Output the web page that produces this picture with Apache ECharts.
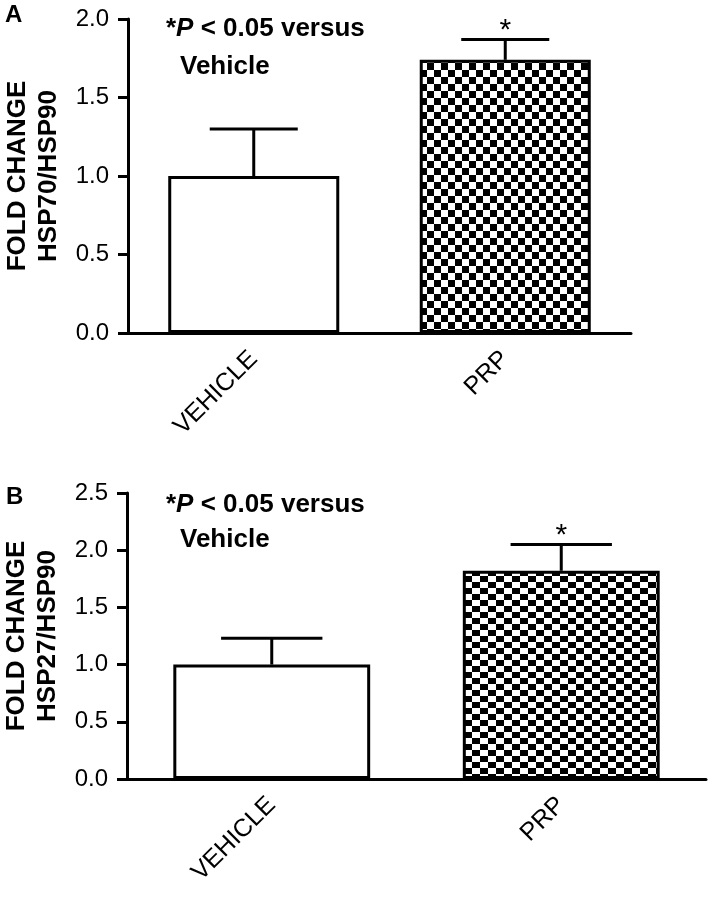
<!DOCTYPE html>
<html>
<head>
<meta charset="utf-8">
<script src="https://cdn.jsdelivr.net/npm/echarts@6/dist/echarts.min.js"></script>
<style>
html,body{margin:0;padding:0;background:#fff;}
#chart{width:709px;height:898px;}
</style>
</head>
<body>
<div id="chart"></div>
<script>
// ---- data ----
const categories = ['VEHICLE', 'PRP'];
const meanA = [1.0, 1.74];
const errA = [0.30, 0.13];
const sigA = ['', '*'];
const meanB = [1.0, 1.82];
const errB = [0.23, 0.23];
const sigB = ['', '*'];
const yTicksA = {min: 0, max: 2.0, interval: 0.5};
const yTicksB = {min: 0, max: 2.5, interval: 0.5};
const yNameA = 'FOLD CHANGE\nHSP70/HSP90';
const yNameB = 'FOLD CHANGE\nHSP27/HSP90';
const noteLine1 = '*{i|P} < 0.05 versus';
const noteLine2 = 'Vehicle';

// ---- checkerboard patterns ----
function checker(w, h) {
  const c = document.createElement('canvas');
  c.width = w * 2; c.height = h * 2;
  const ctx = c.getContext('2d');
  ctx.fillStyle = '#fff'; ctx.fillRect(0, 0, w * 2, h * 2);
  ctx.fillStyle = '#000';
  ctx.fillRect(0, 0, w, h);
  ctx.fillRect(w, h, w, h);
  return {image: c, repeat: 'repeat'};
}
const patA = checker(7, 7);
const patB = checker(8, 6);

const FONT = '"Liberation Sans", Arial, Helvetica, sans-serif';

function barData(means, pat) {
  return means.map((v, i) => ({
    value: v,
    itemStyle: {color: i === 0 ? '#fff' : pat}
  }));
}
function errData(means, errs) {
  return means.map((v, i) => [i, v, errs[i]]);
}
function makeRender(sigArr) {
  return function (params, api) {
    const i = api.value(0), m = api.value(1), e = api.value(2);
    const s = params.dataIndex;
    const p0 = api.coord([i, m]);
    const p1 = api.coord([i, m + e]);
    const half = api.size([1, 0])[0] * 0.175;
    const children = [
      {type: 'line', shape: {x1: p0[0], y1: p0[1], x2: p1[0], y2: p1[1]}, style: {stroke: '#000', lineWidth: 3}},
      {type: 'line', shape: {x1: p1[0] - half, y1: p1[1], x2: p1[0] + half, y2: p1[1]}, style: {stroke: '#000', lineWidth: 3}}
    ];
    if (sigArr[s]) {
      children.push({type: 'text', style: {text: sigArr[s], x: p1[0], y: p1[1] + 6, align: 'center', verticalAlign: 'bottom', fontSize: 30, fontFamily: FONT, fill: '#000'}});
    }
    return {type: 'group', children};
  };
}

function yAxis(gridIndex, t, name) {
  return {
    type: 'value', gridIndex, min: t.min, max: t.max, interval: t.interval,
    name, nameLocation: 'middle', nameRotate: 90, nameGap: 64,
    nameTextStyle: {fontFamily: FONT, fontWeight: 'bold', fontSize: 26, lineHeight: 31, color: '#000', align: 'center'},
    axisLine: {show: true, lineStyle: {color: '#000', width: 3}},
    axisTick: {show: true, inside: false, length: 10, lineStyle: {color: '#000', width: 3}},
    axisLabel: {color: '#000', fontFamily: FONT, fontSize: 24, margin: 19, formatter: v => v.toFixed(1)},
    splitLine: {show: false}
  };
}
function xAxis(gridIndex) {
  return {
    type: 'category', gridIndex, data: categories,
    axisLine: {lineStyle: {color: '#000', width: 3}},
    axisTick: {alignWithLabel: true, length: 8, lineStyle: {color: '#000', width: 3}},
    axisLabel: {rotate: 45, color: '#000', fontFamily: FONT, fontSize: 25, margin: 22, interval: 0}
  };
}
function note(x1, y1, x2, y2) {
  return [
    {type: 'text', x: x1, y: y1, style: {text: noteLine1, verticalAlign: 'middle', fontFamily: FONT, fontWeight: 'bold', fontSize: 26, fill: '#000',
      rich: {i: {fontStyle: 'italic', fontWeight: 'bold', fontFamily: FONT, fontSize: 26}}}},
    {type: 'text', x: x2, y: y2, style: {text: noteLine2, verticalAlign: 'middle', fontFamily: FONT, fontWeight: 'bold', fontSize: 26, fill: '#000'}}
  ];
}

const chart = echarts.init(document.getElementById('chart'), null, {renderer: 'canvas'});
chart.setOption({
  animation: false,
  backgroundColor: '#fff',
  grid: [
    {left: 128, right: 78, top: 19, bottom: 565, containLabel: false, outerBoundsMode: 'none'},
    {left: 127, right: 3, top: 493, bottom: 119, containLabel: false, outerBoundsMode: 'none'}
  ],
  xAxis: [xAxis(0), xAxis(1)],
  yAxis: [yAxis(0, yTicksA, yNameA), yAxis(1, yTicksB, yNameB)],
  graphic: [
    {type: 'text', x: 5, y: 15, style: {text: 'A', verticalAlign: 'middle', fontFamily: FONT, fontWeight: 'bold', fontSize: 24, fill: '#000'}},
    {type: 'text', x: 6, y: 497, style: {text: 'B', verticalAlign: 'middle', fontFamily: FONT, fontWeight: 'bold', fontSize: 24, fill: '#000'}}
  ].concat(note(166, 29, 180, 67), note(166, 505, 180, 540)),
  series: [
    {type: 'bar', xAxisIndex: 0, yAxisIndex: 0, data: barData(meanA, patA), barWidth: '68%',
      itemStyle: {borderColor: '#000', borderWidth: 3}, z: 2},
    {type: 'custom', xAxisIndex: 0, yAxisIndex: 0, data: errData(meanA, errA), renderItem: makeRender(sigA), z: 3},
    {type: 'bar', xAxisIndex: 1, yAxisIndex: 1, data: barData(meanB, patB), barWidth: '68%',
      itemStyle: {borderColor: '#000', borderWidth: 3}, z: 2},
    {type: 'custom', xAxisIndex: 1, yAxisIndex: 1, data: errData(meanB, errB), renderItem: makeRender(sigB), z: 3}
  ]
});
</script>
</body>
</html>
